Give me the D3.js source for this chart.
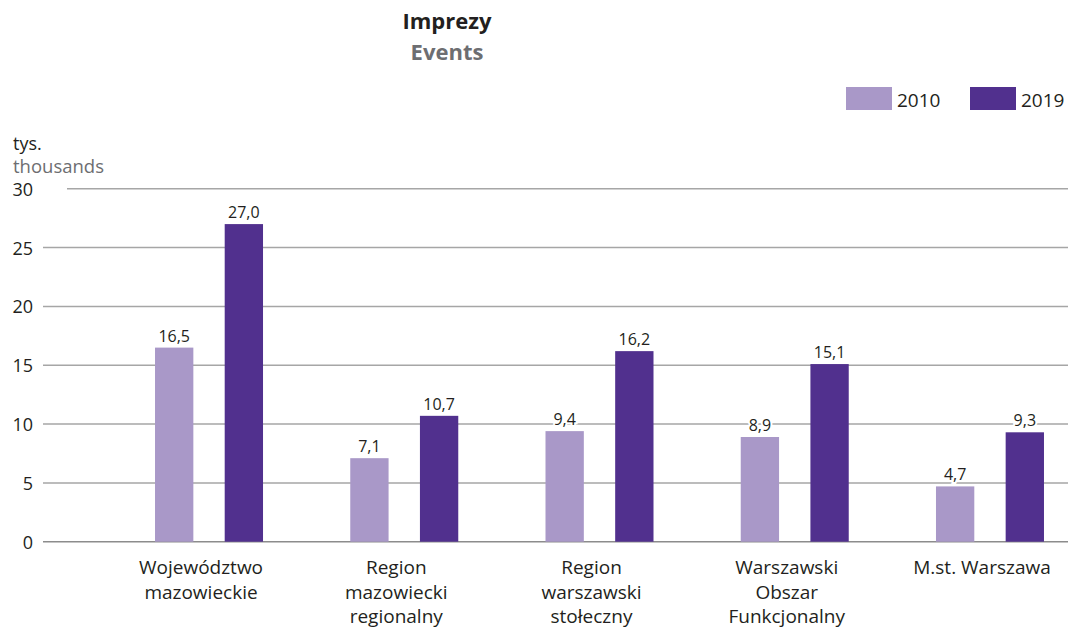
<!DOCTYPE html>
<html>
<head>
<meta charset="utf-8">
<script src="https://cdn.jsdelivr.net/npm/d3@7"></script>
<style>
  html, body { margin: 0; padding: 0; background: #fff; }
  svg { display: block; font-family: "Open Sans", "Noto Sans", sans-serif; }
</style>
</head>
<body>
<svg id="chart" width="1068" height="629"></svg>
<script>
const categories = [
  ["Województwo", "mazowieckie"],
  ["Region", "mazowiecki", "regionalny"],
  ["Region", "warszawski", "stołeczny"],
  ["Warszawski", "Obszar", "Funkcjonalny"],
  ["M.st. Warszawa"]
];
const seriesNames = ["2010", "2019"];
const values2010 = [16.5, 7.1, 9.4, 8.9, 4.7];
const values2019 = [27.0, 10.7, 16.2, 15.1, 9.3];
const yTicks = [0, 5, 10, 15, 20, 25, 30];
const colors = ["#a998c8", "#51308e"];

const svg = d3.select("#chart");
const W = 1068;

const catKeys = categories.map((c, i) => "c" + i);
const x0 = d3.scaleBand().domain(catKeys).range([111.4, 1087.6]).paddingInner(0).paddingOuter(0);
const x1 = d3.scaleBand().domain(seriesNames).range([-54, 54]).paddingInner(0.45).paddingOuter(0);
const y = d3.scaleLinear().domain([0, 30]).range([541.7, 188.8]);

const center = k => x0(k) + x0.bandwidth() / 2;

// Title
svg.append("text").attr("x", 447).attr("y", 29).attr("text-anchor", "middle")
  .attr("font-size", 22).attr("font-weight", 700).attr("fill", "#231f20").text("Imprezy");
svg.append("text").attr("x", 447).attr("y", 60).attr("text-anchor", "middle")
  .attr("font-size", 22).attr("font-weight", 700).attr("fill", "#6d6e71").text("Events");

// Legend
const legend = svg.append("g");
const legX = [846, 970];
seriesNames.forEach((s, i) => {
  legend.append("rect").attr("x", legX[i]).attr("y", 87).attr("width", 46).attr("height", 23).attr("fill", colors[i]);
  legend.append("text").attr("x", legX[i] + 51).attr("y", 107).attr("font-size", 19).attr("fill", "#231f20").text(s);
});

// Unit labels
svg.append("text").attr("x", 13).attr("y", 150).attr("font-size", 18).attr("fill", "#231f20").text("tys.");
svg.append("text").attr("x", 13).attr("y", 173).attr("font-size", 18.5).attr("fill", "#6d6e71").text("thousands");

// Grid lines
const grid = svg.append("g");
grid.selectAll("line").data(yTicks).join("line")
  .attr("x1", d => d === 30 ? 67 : 43).attr("x2", W)
  .attr("y1", d => y(d)).attr("y2", d => y(d))
  .attr("stroke", d => d === 0 ? "#8c8c8c" : "#a6a6a6").attr("stroke-width", 1.5);

// Y axis labels
const yAxis = d3.axisLeft(y).tickValues(yTicks).tickSize(0).tickPadding(0).tickFormat(d3.format("d"));
const yg = svg.append("g").attr("transform", "translate(33,0)").call(yAxis);
yg.select(".domain").remove();
yg.selectAll("text").attr("font-size", 18).attr("fill", "#231f20").attr("font-family", "Open Sans, sans-serif").attr("dy", "0.36em");

// Bars
const data = categories.map((c, i) => ({ key: catKeys[i], vals: [values2010[i], values2019[i]] }));
const groups = svg.append("g").selectAll("g").data(data).join("g")
  .attr("transform", d => `translate(${center(d.key)},0)`);

groups.selectAll("rect").data(d => d.vals.map((v, j) => ({ s: seriesNames[j], v, j }))).join("rect")
  .attr("x", d => x1(d.s)).attr("width", x1.bandwidth())
  .attr("y", d => y(d.v)).attr("height", d => y(0) - y(d.v))
  .attr("fill", d => colors[d.j]);

const fmt = v => d3.format(".1f")(v).replace(".", ",");
groups.selectAll("text.val").data(d => d.vals.map((v, j) => ({ s: seriesNames[j], v, j }))).join("text")
  .attr("class", "val")
  .attr("x", d => x1(d.s) + x1.bandwidth() / 2).attr("y", d => y(d.v) - 6)
  .attr("text-anchor", "middle").attr("font-size", 16).attr("fill", "#231f20")
  .attr("stroke", "#fff").attr("stroke-width", 4).attr("paint-order", "stroke")
  .text(d => fmt(d.v));

// Category labels
const catG = svg.append("g").selectAll("text").data(data).join("text")
  .attr("x", d => center(d.key) - 8).attr("y", 574)
  .attr("text-anchor", "middle").attr("font-size", 19).attr("fill", "#231f20");
catG.selectAll("tspan").data((d, i) => categories[i]).join("tspan")
  .attr("x", function() { return d3.select(this.parentNode).attr("x"); })
  .attr("dy", (d, i) => i === 0 ? 0 : 24.5)
  .text(d => d);
</script>
</body>
</html>
